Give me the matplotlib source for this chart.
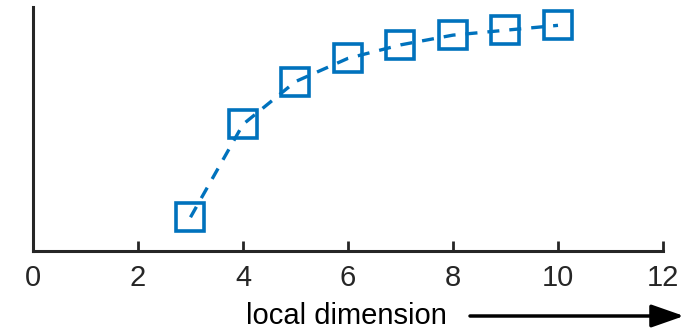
import matplotlib
matplotlib.use('Agg')
import matplotlib.pyplot as plt

# values (y axis has no scale, so arbitrary units)
local_dim = [3, 4, 5, 6, 7, 8, 9, 10]
score = [0.14, 0.52, 0.695, 0.79, 0.845, 0.885, 0.905, 0.925]
x_ticks = [0, 2, 4, 6, 8, 10, 12]
x_label = 'local dimension'

plt.rcParams['font.family'] = ['Liberation Sans', 'DejaVu Sans']

fig = plt.figure(figsize=(6.93, 3.29), dpi=100)
ax = fig.add_axes([0.0476, 0.2356, 0.9091, 0.7431])

blue = '#0072BD'
ax.plot(local_dim, score, color=blue, lw=2.4, linestyle=(0, (3.6, 3.0)),
        marker='s', markersize=20, markerfacecolor='none',
        markeredgecolor=blue, markeredgewidth=2.6)

ax.set_xlim(0, 12)
ax.set_ylim(0, 1)
ax.set_xticks(x_ticks)
ax.set_yticks([])
for side in ['top', 'right']:
    ax.spines[side].set_visible(False)
for side in ['left', 'bottom']:
    ax.spines[side].set_linewidth(2.2)
    ax.spines[side].set_color('#262626')
ax.tick_params(axis='x', direction='in', length=7, width=2,
               color='#262626', labelcolor='#262626', labelsize=21, pad=9)

# label with arrow pointing to the right, below the axis
fig.text(346 / 693, 13 / 329, x_label, ha='center', va='center', fontsize=21)
ax.annotate('', xy=(684, 13), xytext=(470, 13),
            xycoords='figure pixels', textcoords='figure pixels',
            arrowprops=dict(arrowstyle='-|>,head_length=1.0,head_width=0.35',
                            mutation_scale=20, lw=2.5, color='black',
                            shrinkA=0, shrinkB=0))

fig.savefig('out.png', dpi=100)
